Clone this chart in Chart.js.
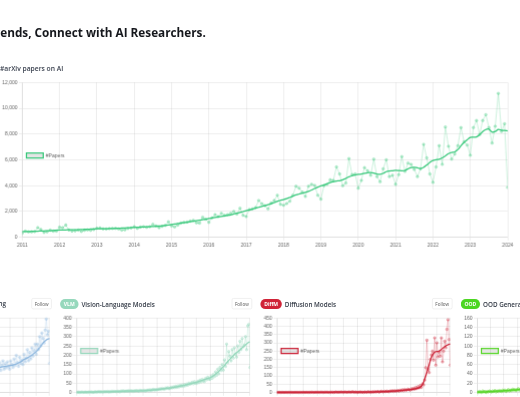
<!DOCTYPE html>
<html>
<head>
<meta charset="utf-8">
<script src="https://cdn.jsdelivr.net/npm/chart.js@4.4.1/dist/chart.umd.min.js"></script>
<style>
  html, body { margin: 0; padding: 0; background: #fff; width: 520px; height: 397px; overflow: hidden; }
  #page { position: absolute; left: 0; top: 0; width: 1240px; height: 946px; transform: scale(0.42); transform-origin: 0 0; font-family: 'Open Sans', sans-serif; }
  .title { position: absolute; right: 750px; top: 64px; font-size: 28px; font-weight: 700; line-height: 1; color: #15171c; white-space: nowrap; }
  .sub { position: absolute; left: 0; top: 155px; font-size: 16px; font-weight: 600; line-height: 1; color: #3b4250; white-space: nowrap; }
  .chart { position: absolute; }
  .card { position: absolute; top: 0; width: 460px; height: 946px; }
  .head { position: absolute; left: 0; top: 712px; display: flex; align-items: center; white-space: nowrap; }
  .head.right { left: auto; right: 112px; }
  .badge { height: 24px; line-height: 24px; padding: 0 9px; border-radius: 12px; color: #fff; font-size: 12px; font-weight: 700; margin-right: 7px; }
  .name { font-size: 15px; font-weight: 600; color: #333a46; }
  .follow { position: absolute; left: 409px; top: 710px; width: 48px; height: 26px; box-sizing: border-box; border: 1px solid #dcdcdc; border-radius: 4px; background: #fff; font: 11px 'Open Sans', sans-serif; color: #555; padding: 0; }
  .card .chart { left: 5px; top: 747px; width: 457px; height: 229px; }
</style>
</head>
<body>
<div id="page">
  <div class="title">Trends, Connect with AI Researchers.</div>
  <div class="sub">#arXiv papers on AI</div>
  <div class="chart" style="left:2px;top:186px;width:1221px;height:406px"><canvas id="mainChart"></canvas></div>

  <div class="card" style="left:-334px">
    <div class="head right"><span class="name">Reinforcement Learning</span></div>
    <button class="follow">Follow</button>
    <div class="chart"><canvas id="rlChart"></canvas></div>
  </div>
  <div class="card" style="left:143px">
    <div class="head"><span class="badge" style="background:rgb(150,216,188)">VLM</span><span class="name">Vision-Language Models</span></div>
    <button class="follow">Follow</button>
    <div class="chart"><canvas id="vlmChart"></canvas></div>
  </div>
  <div class="card" style="left:620px">
    <div class="head"><span class="badge" style="background:rgb(208,35,55)">DiffM</span><span class="name">Diffusion Models</span></div>
    <button class="follow">Follow</button>
    <div class="chart"><canvas id="diffChart"></canvas></div>
  </div>
  <div class="card" style="left:1097px">
    <div class="head"><span class="badge" style="background:rgb(76,214,34)">OOD</span><span class="name">OOD Generalization</span></div>
    <button class="follow">Follow</button>
    <div class="chart"><canvas id="oodChart"></canvas></div>
  </div>
</div>

<script>
// monthly counts, Jan 2011 .. Jan 2024
const firstYear = 2011;
const lastYear = 2024;

const mainRaw = [
  310, 470, 420, 420, 440, 750, 600, 370, 420, 550, 470, 480,
  780, 740, 950, 560, 480, 500, 560, 450, 540, 570, 540, 600,
  700, 720, 650, 640, 670, 680, 690, 640, 560, 580, 680, 720,
  820, 690, 790, 820, 770, 820, 1000, 880, 740, 850, 920, 1200,
  880, 800, 950, 1100, 1150, 1180, 1250, 1300, 1120, 1100, 1550, 1400,
  1150, 1500, 1750, 1600, 1850, 1700, 1750, 1850, 2000, 1800, 2250, 1700,
  1600, 2150, 2200, 2300, 2850, 2600, 2450, 2200, 2650, 2850, 3250, 2550,
  2480, 2610, 2790, 3250, 3950, 3800, 3500, 3160, 3950, 4100, 4020, 3250,
  2950, 4000, 4100, 4450, 4400, 5450, 4900, 4000, 4200, 6100, 4850, 4900,
  3800, 4400, 5400, 5150, 4800, 6050, 4700, 4300, 5300, 6000, 4700, 4800,
  4100, 4850, 6250, 5100, 5750, 5650, 5250, 4700, 5300, 7200, 6150, 4900,
  4250, 5450, 7100, 5650, 8550, 7050, 6050, 6450, 7100, 8500, 7400, 7150,
  6350, 8500, 9050, 7950, 9050, 9500, 8500, 7300, 8600, 11150, 8200, 8800,
  3850
];
const mainTrend = [
  440, 445, 450, 455, 460, 470, 480, 490, 500, 510, 525, 545,
  560, 565, 570, 575, 580, 585, 590, 600, 610, 620, 630, 640,
  650, 655, 660, 665, 670, 680, 690, 700, 710, 720, 735, 750,
  765, 775, 785, 795, 805, 820, 835, 850, 870, 890, 920, 950,
  990, 1020, 1060, 1100, 1130, 1160, 1200, 1240, 1280, 1320, 1360, 1400,
  1450, 1490, 1530, 1570, 1610, 1650, 1690, 1730, 1800, 1860, 1920, 1990,
  2060, 2120, 2180, 2250, 2320, 2390, 2450, 2520, 2600, 2690, 2780, 2860,
  2920, 2990, 3080, 3180, 3280, 3350, 3420, 3480, 3560, 3660, 3780, 3880,
  3980, 4060, 4150, 4240, 4300, 4350, 4380, 4450, 4560, 4680, 4760, 4820,
  4870, 4900, 4950, 5000, 5020, 4980, 4900, 4880, 4950, 5080, 5130, 5150,
  5180, 5170, 5150, 5180, 5300, 5400, 5420, 5380, 5330, 5420, 5600, 5800,
  5950, 6000, 6050, 6150, 6300, 6480, 6570, 6620, 6800, 7100, 7350, 7550,
  7730, 7750, 7780, 7950, 8200, 8350, 8380, 8150, 8200, 8350, 8300, 8280,
  8250
];

const rlRaw = [
  15, 25, 18, 28, 22, 17, 30, 20, 26, 33, 24, 29,
  28, 38, 31, 42, 35, 30, 44, 36, 41, 48, 39, 45,
  40, 50, 43, 55, 47, 42, 57, 49, 54, 60, 51, 58,
  52, 63, 55, 66, 58, 54, 70, 61, 67, 74, 64, 72,
  65, 78, 68, 82, 72, 67, 86, 75, 81, 90, 78, 88,
  80, 94, 84, 98, 88, 82, 103, 91, 97, 106, 93, 104,
  95, 110, 99, 115, 103, 97, 120, 107, 113, 124, 108, 121,
  110, 126, 114, 130, 117, 112, 134, 121, 128, 138, 122, 135,
  122, 140, 127, 143, 130, 125, 146, 132, 140, 150, 131, 145,
  120, 150, 128, 160, 118, 145, 170, 125, 155, 132, 165, 140,
  125, 170, 150, 135, 180, 145, 200, 160, 140, 190, 155, 175,
  150, 205, 165, 185, 230, 170, 215, 180, 240, 195, 225, 260,
  205, 260, 230, 300, 250, 320, 290, 265, 335, 395, 310, 330,
  156
];
const rlTrend = [
  20, 21, 22, 23, 24, 25, 26, 27, 28, 29, 30, 31,
  32, 33, 34, 35, 36, 37, 38, 39, 40, 41, 42, 43,
  44, 45, 46, 47, 48, 49, 50, 51, 52, 53, 54, 55,
  56, 57, 58, 59, 60, 62, 63, 64, 65, 66, 68, 69,
  70, 71, 72, 74, 75, 76, 78, 79, 80, 82, 83, 84,
  86, 87, 88, 90, 91, 92, 94, 95, 96, 98, 99, 100,
  102, 103, 104, 106, 107, 108, 110, 111, 112, 114, 115, 116,
  118, 119, 120, 121, 122, 123, 124, 125, 126, 127, 128, 129,
  130, 130, 131, 131, 131, 131, 131, 132, 132, 132, 132, 132,
  132, 133, 134, 135, 136, 137, 138, 139, 140, 141, 142, 143,
  144, 145, 146, 147, 149, 151, 153, 156, 159, 162, 165, 168,
  174, 177, 180, 183, 186, 190, 193, 197, 201, 205, 210, 215,
  220, 226, 233, 240, 248, 257, 266, 272, 277, 282, 286, 288,
  290
];

const vlmRaw = [
  0, 1, 2, 0, 1, 3, 0, 1, 2, 1, 0, 3,
  1, 3, 2, 0, 2, 4, 1, 3, 5, 2, 4, 3,
  2, 5, 3, 4, 6, 2, 5, 3, 7, 4, 6, 5,
  4, 7, 5, 3, 8, 6, 9, 5, 7, 8, 6, 10,
  6, 9, 8, 5, 10, 7, 11, 8, 6, 12, 9, 10,
  8, 12, 7, 11, 13, 9, 15, 10, 14, 17, 12, 16,
  13, 18, 15, 20, 16, 22, 19, 17, 24, 21, 26, 20,
  22, 28, 24, 30, 26, 33, 27, 35, 29, 38, 33, 40,
  32, 42, 36, 45, 39, 50, 44, 48, 55, 46, 58, 50,
  48, 60, 52, 66, 57, 70, 62, 58, 75, 68, 82, 72,
  70, 88, 76, 96, 85, 110, 92, 125, 100, 135, 118, 150,
  120, 175, 140, 260, 160, 220, 195, 170, 230, 185, 240, 205,
  190, 250, 215, 275, 230, 290, 245, 255, 300, 230, 358, 367,
  134
];
const vlmTrend = [
  1, 1, 1, 1, 1, 1, 1, 1, 2, 2, 2, 2,
  2, 2, 2, 2, 2, 3, 3, 3, 3, 3, 3, 3,
  3, 3, 4, 4, 4, 4, 4, 4, 5, 5, 5, 5,
  5, 5, 5, 6, 6, 6, 6, 6, 7, 7, 7, 7,
  7, 7, 7, 8, 8, 8, 8, 8, 8, 9, 9, 9,
  9, 9, 10, 10, 11, 11, 12, 12, 13, 13, 14, 14,
  15, 16, 16, 17, 18, 19, 19, 20, 21, 22, 22, 23,
  24, 25, 26, 27, 28, 29, 30, 31, 32, 34, 35, 36,
  37, 38, 40, 41, 43, 44, 46, 47, 49, 50, 52, 53,
  55, 57, 59, 61, 63, 65, 67, 69, 71, 73, 75, 77,
  79, 82, 85, 89, 93, 98, 103, 108, 114, 120, 126, 132,
  138, 145, 152, 159, 166, 173, 180, 186, 192, 198, 204, 210,
  214, 219, 224, 229, 234, 240, 245, 250, 256, 261, 266, 270,
  272
];

const diffRaw = [
  0, 0, 1, 0, 0, 1, 0, 0, 1, 0, 0, 1,
  0, 1, 0, 0, 1, 0, 1, 0, 0, 1, 0, 1,
  1, 0, 1, 1, 0, 1, 0, 2, 1, 0, 1, 1,
  1, 2, 0, 1, 2, 1, 0, 2, 1, 2, 1, 0,
  2, 1, 2, 0, 1, 3, 1, 2, 1, 2, 3, 1,
  1, 3, 2, 1, 2, 3, 1, 2, 4, 2, 1, 3,
  0, 2, 1, 3, 1, 2, 0, 3, 2, 1, 4, 2,
  3, 1, 4, 2, 5, 3, 4, 6, 2, 5, 7, 4,
  4, 7, 5, 8, 6, 4, 9, 7, 10, 6, 11, 8,
  9, 12, 8, 14, 11, 16, 10, 18, 13, 15, 20, 17,
  14, 22, 18, 25, 20, 30, 24, 35, 28, 42, 30, 52,
  45, 75, 150, 316, 140, 120, 200, 227, 250, 195, 330, 165,
  300, 215, 245, 220, 330, 185, 250, 310, 270, 382, 440, 320,
  165
];
const diffTrend = [
  0, 0, 0, 0, 0, 0, 0, 0, 1, 1, 1, 1,
  1, 1, 1, 1, 1, 1, 1, 1, 1, 1, 1, 1,
  1, 1, 1, 1, 1, 1, 1, 1, 1, 1, 1, 1,
  1, 1, 1, 1, 1, 1, 1, 1, 1, 1, 1, 1,
  1, 1, 1, 2, 2, 2, 2, 2, 2, 2, 2, 2,
  2, 2, 2, 2, 2, 2, 2, 2, 2, 2, 2, 2,
  2, 2, 2, 2, 2, 2, 2, 2, 2, 2, 2, 2,
  3, 3, 3, 3, 3, 4, 4, 4, 4, 4, 5, 5,
  5, 5, 6, 6, 6, 7, 7, 7, 8, 8, 9, 9,
  10, 10, 11, 11, 12, 12, 13, 14, 14, 15, 16, 16,
  17, 18, 19, 20, 21, 22, 24, 26, 28, 32, 38, 48,
  62, 80, 100, 122, 145, 168, 190, 210, 225, 236, 243, 247,
  248, 248, 250, 254, 260, 266, 272, 277, 281, 285, 289, 291,
  293
];

const oodRaw = [
  1, 0, 2, 1, 0, 3, 1, 2, 0, 2, 1, 3,
  2, 1, 3, 2, 4, 1, 3, 2, 4, 3, 2, 5,
  3, 5, 2, 4, 6, 3, 5, 4, 7, 5, 6, 4,
  6, 8, 5, 7, 9, 6, 8, 10, 7, 9, 11, 8,
  9, 12, 8, 11, 13, 10, 12, 14, 11, 13, 15, 12,
  14, 17, 13, 16, 18, 15, 19, 17, 20, 18, 22, 19,
  21, 24, 20, 23, 26, 22, 25, 28, 24, 27, 30, 26,
  29, 33, 28, 32, 36, 31, 35, 39, 34, 38, 42, 37,
  40, 45, 39, 44, 49, 43, 48, 53, 46, 52, 57, 50,
  54, 60, 52, 58, 65, 57, 63, 70, 61, 68, 74, 66,
  70, 78, 68, 76, 84, 74, 82, 90, 80, 88, 96, 85,
  90, 99, 87, 97, 106, 94, 104, 113, 100, 111, 120, 108,
  112, 124, 108, 120, 133, 117, 128, 142, 125, 138, 152, 130,
  95
];
const oodTrend = [
  1, 1, 1, 1, 1, 1, 1, 1, 1, 2, 2, 2,
  2, 2, 2, 2, 3, 3, 3, 3, 3, 3, 3, 3,
  4, 4, 4, 4, 4, 4, 5, 5, 5, 5, 5, 5,
  6, 6, 6, 7, 7, 7, 8, 8, 8, 9, 9, 9,
  10, 10, 11, 11, 11, 12, 12, 13, 13, 13, 14, 14,
  15, 15, 16, 16, 17, 17, 18, 18, 19, 19, 20, 20,
  21, 22, 22, 23, 24, 24, 25, 26, 26, 27, 28, 28,
  29, 30, 31, 32, 33, 34, 35, 36, 37, 38, 39, 40,
  41, 42, 43, 44, 45, 46, 47, 48, 49, 50, 51, 52,
  54, 56, 57, 59, 60, 62, 63, 65, 66, 68, 69, 71,
  72, 74, 76, 78, 80, 82, 83, 85, 87, 89, 90, 92,
  94, 96, 98, 100, 102, 104, 106, 108, 110, 112, 114, 116,
  117, 119, 121, 123, 125, 127, 129, 130, 132, 133, 134, 135,
  136
];

const pageScale = 0.42;

function toPoints(values) {
  return values.map((v, i) => ({ x: firstYear + i / 12, y: v }));
}

function drawPapers(id, raw, trend, rgb, rawAlpha) {
  const faint = 'rgba(' + rgb + ',' + rawAlpha + ')';
  new Chart(document.getElementById(id), {
    type: 'line',
    data: {
      datasets: [{
        label: '#Papers',
        data: toPoints(trend),
        borderColor: 'rgb(' + rgb + ')',
        borderWidth: 3,
        pointRadius: 0,
        tension: 0.4
      }, {
        label: 'monthly',
        data: toPoints(raw),
        borderColor: faint,
        backgroundColor: faint,
        pointBackgroundColor: faint,
        pointBorderColor: faint,
        borderWidth: 2,
        pointRadius: 3
      }]
    },
    options: {
      animation: false,
      responsive: true,
      maintainAspectRatio: false,
      devicePixelRatio: pageScale,
      plugins: {
        legend: {
          position: 'chartArea',
          labels: { filter: item => item.datasetIndex === 0 }
        },
        tooltip: { enabled: false }
      },
      scales: {
        x: {
          type: 'linear',
          min: firstYear,
          max: lastYear,
          grid: { lineWidth: 2, color: 'rgba(0,0,0,0.09)' },
          border: { width: 2, color: 'rgba(0,0,0,0.09)' },
          ticks: { stepSize: 1, callback: v => String(v) }
        },
        y: {
          beginAtZero: true,
          grid: { lineWidth: 2, color: 'rgba(0,0,0,0.09)' },
          border: { width: 2, color: 'rgba(0,0,0,0.09)' }
        }
      }
    }
  });
}

drawPapers('mainChart', mainRaw, mainTrend, '52,199,120', 0.3);
drawPapers('rlChart', rlRaw, rlTrend, '140,182,222', 0.3);
drawPapers('vlmChart', vlmRaw, vlmTrend, '150,216,188', 0.35);
drawPapers('diffChart', diffRaw, diffTrend, '204,36,56', 0.3);
drawPapers('oodChart', oodRaw, oodTrend, '88,214,42', 0.35);
</script>
</body>
</html>
